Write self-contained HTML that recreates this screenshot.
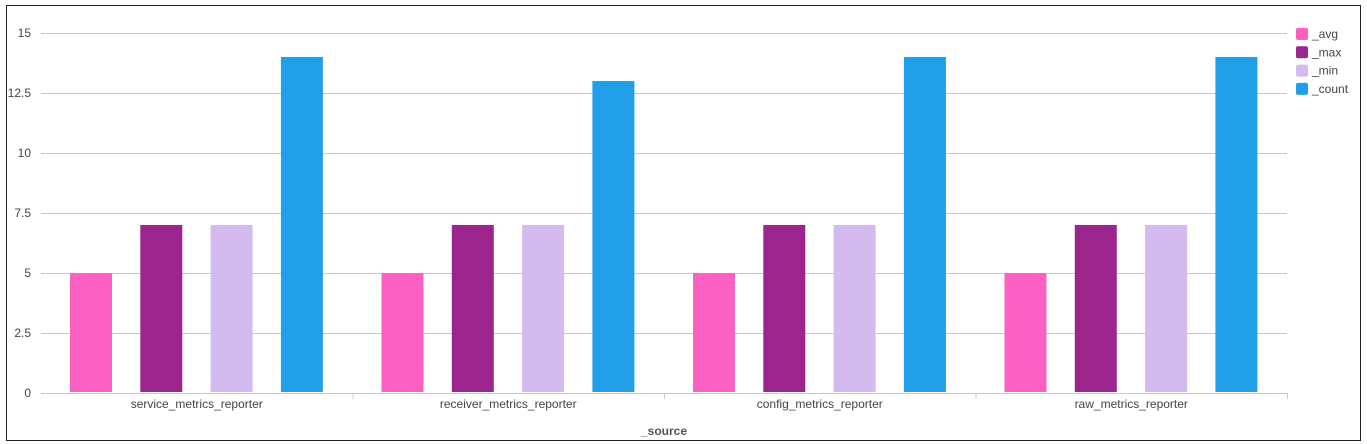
<!DOCTYPE html>
<html><head><meta charset="utf-8"><style>
body{margin:0;background:#fff;width:1367px;height:444px;overflow:hidden}
svg{display:block;font-family:"Liberation Sans",Arial,sans-serif}
</style></head><body>
<svg id="c" width="1367" height="444">
<rect x="6.5" y="5.5" width="1354" height="435" fill="#fff" stroke="#222"/>
</svg>
<script>
const categories=["service_metrics_reporter","receiver_metrics_reporter","config_metrics_reporter","raw_metrics_reporter"];
const seriesNames=["_avg","_max","_min","_count"];
const avgValues=[5,5,5,5];
const maxValues=[7,7,7,7];
const minValues=[7,7,7,7];
const countValues=[14,13,14,14];
const yTicks=[0,2.5,5,7.5,10,12.5,15];
const yTickLabels=["0","2.5","5","7.5","10","12.5","15"];
const colors=["#fc60c2","#9c248d","#d3bbef","#21a0e9"];
const series=[avgValues,maxValues,minValues,countValues];
const NS="http://www.w3.org/2000/svg";
const svg=document.getElementById('c');
const x0=41,x1=1287,yTop=33,yBase=393,yMax=15;
const y=v=>yBase-(v/yMax)*(yBase-yTop);
const gw=(x1-x0)/categories.length;
function mk(t,a,txt){const e=document.createElementNS(NS,t);for(const k in a)e.setAttribute(k,a[k]);if(txt!=null)e.textContent=txt;svg.appendChild(e);return e;}
yTicks.forEach((t,i)=>{
 if(t>0){const g=mk('line',{x1:x0,x2:x1,y1:y(t)+0.5,y2:y(t)+0.5,stroke:'#c8c8c8'});
 
 }
 const l=mk('text',{x:31,y:y(t)+4,'text-anchor':'end','font-size':12,fill:'#444'},yTickLabels[i]);
 
 
});
const ax=mk('line',{x1:x0,x2:x1,y1:yBase+0.5,y2:yBase+0.5,stroke:'#c0cad8'});


categories.forEach((c,ci)=>{
 const gx=x0+ci*gw;
 const tk=mk('line',{x1:gx+gw+0.5,x2:gx+gw+0.5,y1:yBase,y2:yBase+6,stroke:'#c0cad8'});
 
 
 series.forEach((s,si)=>{
  const bx=gx+29+si*70.3;
  const r=mk('rect',{x:bx,y:y(s[ci]),width:42,height:yBase-1-y(s[ci]),fill:colors[si]});
  
  
 });
 const t=mk('text',{x:gx+gw/2,y:408,'text-anchor':'middle','font-size':12,fill:'#444'},c);
 
 
});
const xt=mk('text',{x:664,y:435,'text-anchor':'middle','font-size':12,'font-weight':'bold',fill:'#555'},'_source');


seriesNames.forEach((n,i)=>{
 const yy=28+i*18.3;
 const sw=mk('rect',{x:1296,y:yy,width:12,height:12,rx:2,fill:colors[i]});
 
 
 const lt=mk('text',{x:1312,y:yy+10,'font-size':12,fill:'#444'},n);
 
 
});
</script>
</body></html>
